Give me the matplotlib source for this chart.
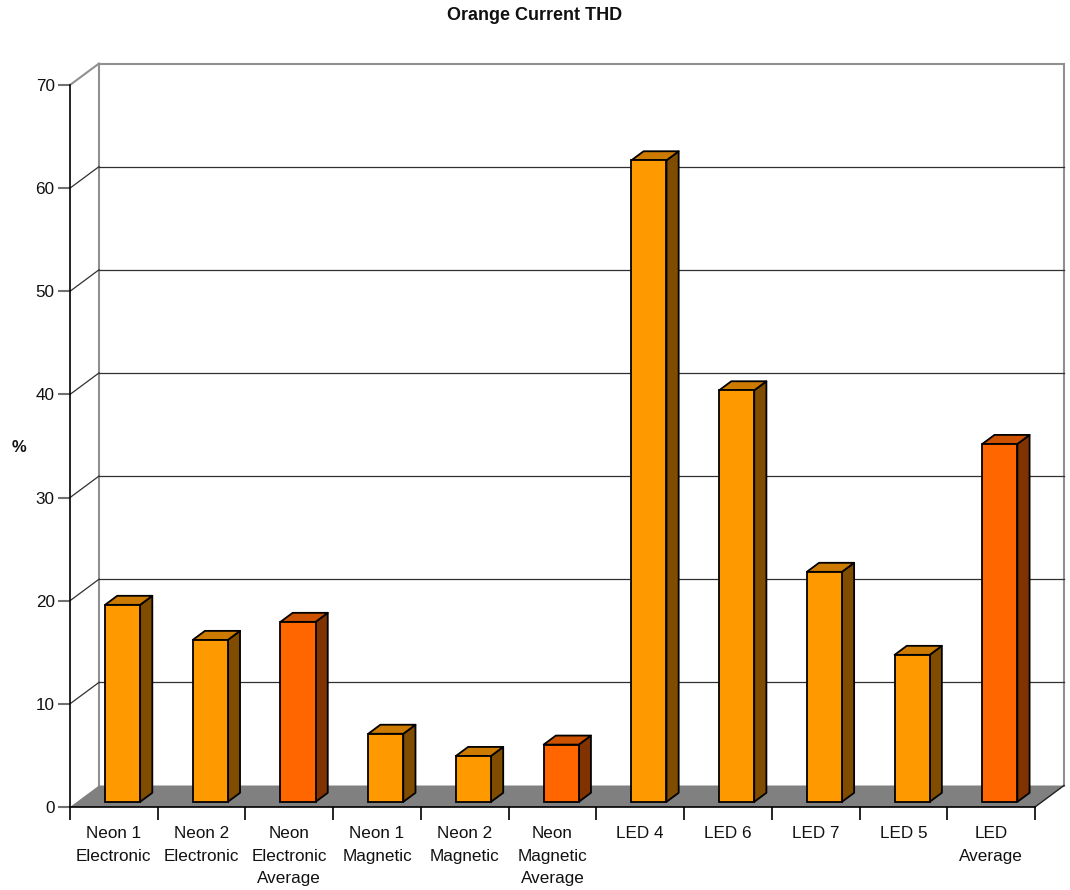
import matplotlib
matplotlib.use("Agg")
import matplotlib.pyplot as plt
from matplotlib.patches import Polygon
import numpy as np

plt.rcParams['font.family'] = ['Liberation Sans', 'DejaVu Sans']

categories = ["Neon 1\nElectronic", "Neon 2\nElectronic", "Neon\nElectronic\nAverage",
              "Neon 1\nMagnetic", "Neon 2\nMagnetic", "Neon\nMagnetic\nAverage",
              "LED 4", "LED 6", "LED 7", "LED 5", "LED\nAverage"]
thd_percent = [19.1, 15.7, 17.45, 6.6, 4.45, 5.55, 62.2, 39.9, 22.3, 14.25, 34.7]
is_average = [False, False, True, False, False, True, False, False, False, False, True]

title = "Orange Current THD"
y_label = "%"
y_ticks = [0, 10, 20, 30, 40, 50, 60, 70]

# palette: (front, side, top)
plain_colors = ("#FF9900", "#804D00", "#CC7A00")
avg_colors = ("#FF6600", "#803300", "#CC5200")

W, H = 1070, 890
fig = plt.figure(figsize=(W / 100, H / 100), dpi=100)
ax = fig.add_axes([70 / W, 83 / H, (1035 - 70) / W, (807 - 85) / H])
n = len(categories)
ax.set_xlim(0, n)
ax.set_ylim(0, 70)

# depth of the pseudo-3D box in data units
px_x = (1035 - 70) / n
px_y = (807 - 85) / 70
DX = 29 / px_x
DY = 21.5 / px_y

wall = "#909090"
grid = "#303030"
kw = dict(clip_on=False)

# back wall frame
ax.plot([DX, DX], [DY, 70 + DY], color=wall, lw=1.5, zorder=1, **kw)
ax.plot([n + DX, n + DX], [DY, 70 + DY], color=wall, lw=1.5, zorder=1, **kw)
ax.plot([DX, n + DX], [70 + DY, 70 + DY], color=wall, lw=1.5, zorder=1, **kw)
ax.plot([0, DX], [70, 70 + DY], color=wall, lw=1.5, zorder=1, **kw)
for v in y_ticks[1:-1]:
    ax.plot([DX, n + DX], [v + DY, v + DY], color=grid, lw=0.9, zorder=1, **kw)
    ax.plot([0, DX], [v, v + DY], color=grid, lw=0.9, zorder=1, **kw)

# floor
ax.add_patch(Polygon([(0, 0), (n, 0), (n + DX, DY), (DX, DY)], closed=True,
                     facecolor="#808080", edgecolor="none", zorder=2, **kw))
ax.plot([n, n + DX], [0, DY], color="#202020", lw=1.0, zorder=2, **kw)

# bars
f1, f2 = 0.24, 0.66
bw = 0.4
xs = np.arange(n) + 0.52 - bw / 2 + f1 * DX
front_cols = [avg_colors[0] if a else plain_colors[0] for a in is_average]
ax.bar(xs, thd_percent, width=bw, bottom=f1 * DY, align="edge",
       color=front_cols, edgecolor="black", linewidth=1.3, zorder=4, **kw)
ddx, ddy = (f2 - f1) * DX, (f2 - f1) * DY
for x0, v, a in zip(xs, thd_percent, is_average):
    cols = avg_colors if a else plain_colors
    x1 = x0 + bw
    b = f1 * DY
    side = [(x1, b), (x1 + ddx, b + ddy), (x1 + ddx, b + ddy + v), (x1, b + v)]
    top = [(x0, b + v), (x1, b + v), (x1 + ddx, b + v + ddy), (x0 + ddx, b + v + ddy)]
    ax.add_patch(Polygon(side, closed=True, facecolor=cols[1], edgecolor="black",
                         lw=1.3, joinstyle="round", zorder=3, **kw))
    ax.add_patch(Polygon(top, closed=True, facecolor=cols[2], edgecolor="black",
                         lw=1.3, joinstyle="round", zorder=3, **kw))

# axes
for s in ("top", "right"):
    ax.spines[s].set_visible(False)
for s in ("left", "bottom"):
    ax.spines[s].set_color("black")
    ax.spines[s].set_linewidth(1.2)
    ax.spines[s].set_zorder(5)
ax.set_facecolor("none")

ax.set_yticks(y_ticks)
ax.set_yticklabels([str(t) for t in y_ticks])
ax.tick_params(axis="y", direction="out", length=9, width=1.5, color="#707070",
               pad=2, labelsize=12.3, labelcolor="#111111")

ax.set_xticks(np.arange(n + 1))
ax.set_xticklabels([])
ax.tick_params(axis="x", which="major", direction="out", length=9, width=1.2, color="black")
ax.set_xticks(np.arange(n) + 0.5, minor=True)
ax.set_xticklabels(categories, minor=True, fontsize=12.3, linespacing=1.62, color="#111111")
ax.tick_params(axis="x", which="minor", length=0, pad=14)

fig.text(0.5, 1 - 16 / H, title, ha="center", va="center", fontsize=13,
         fontweight="bold", color="#111111")
fig.text(19 / W, 1 - 447 / H, y_label, ha="center", va="center", fontsize=12,
         fontweight="bold", color="#111111")

fig.savefig("out.png", dpi=100, facecolor="white")
